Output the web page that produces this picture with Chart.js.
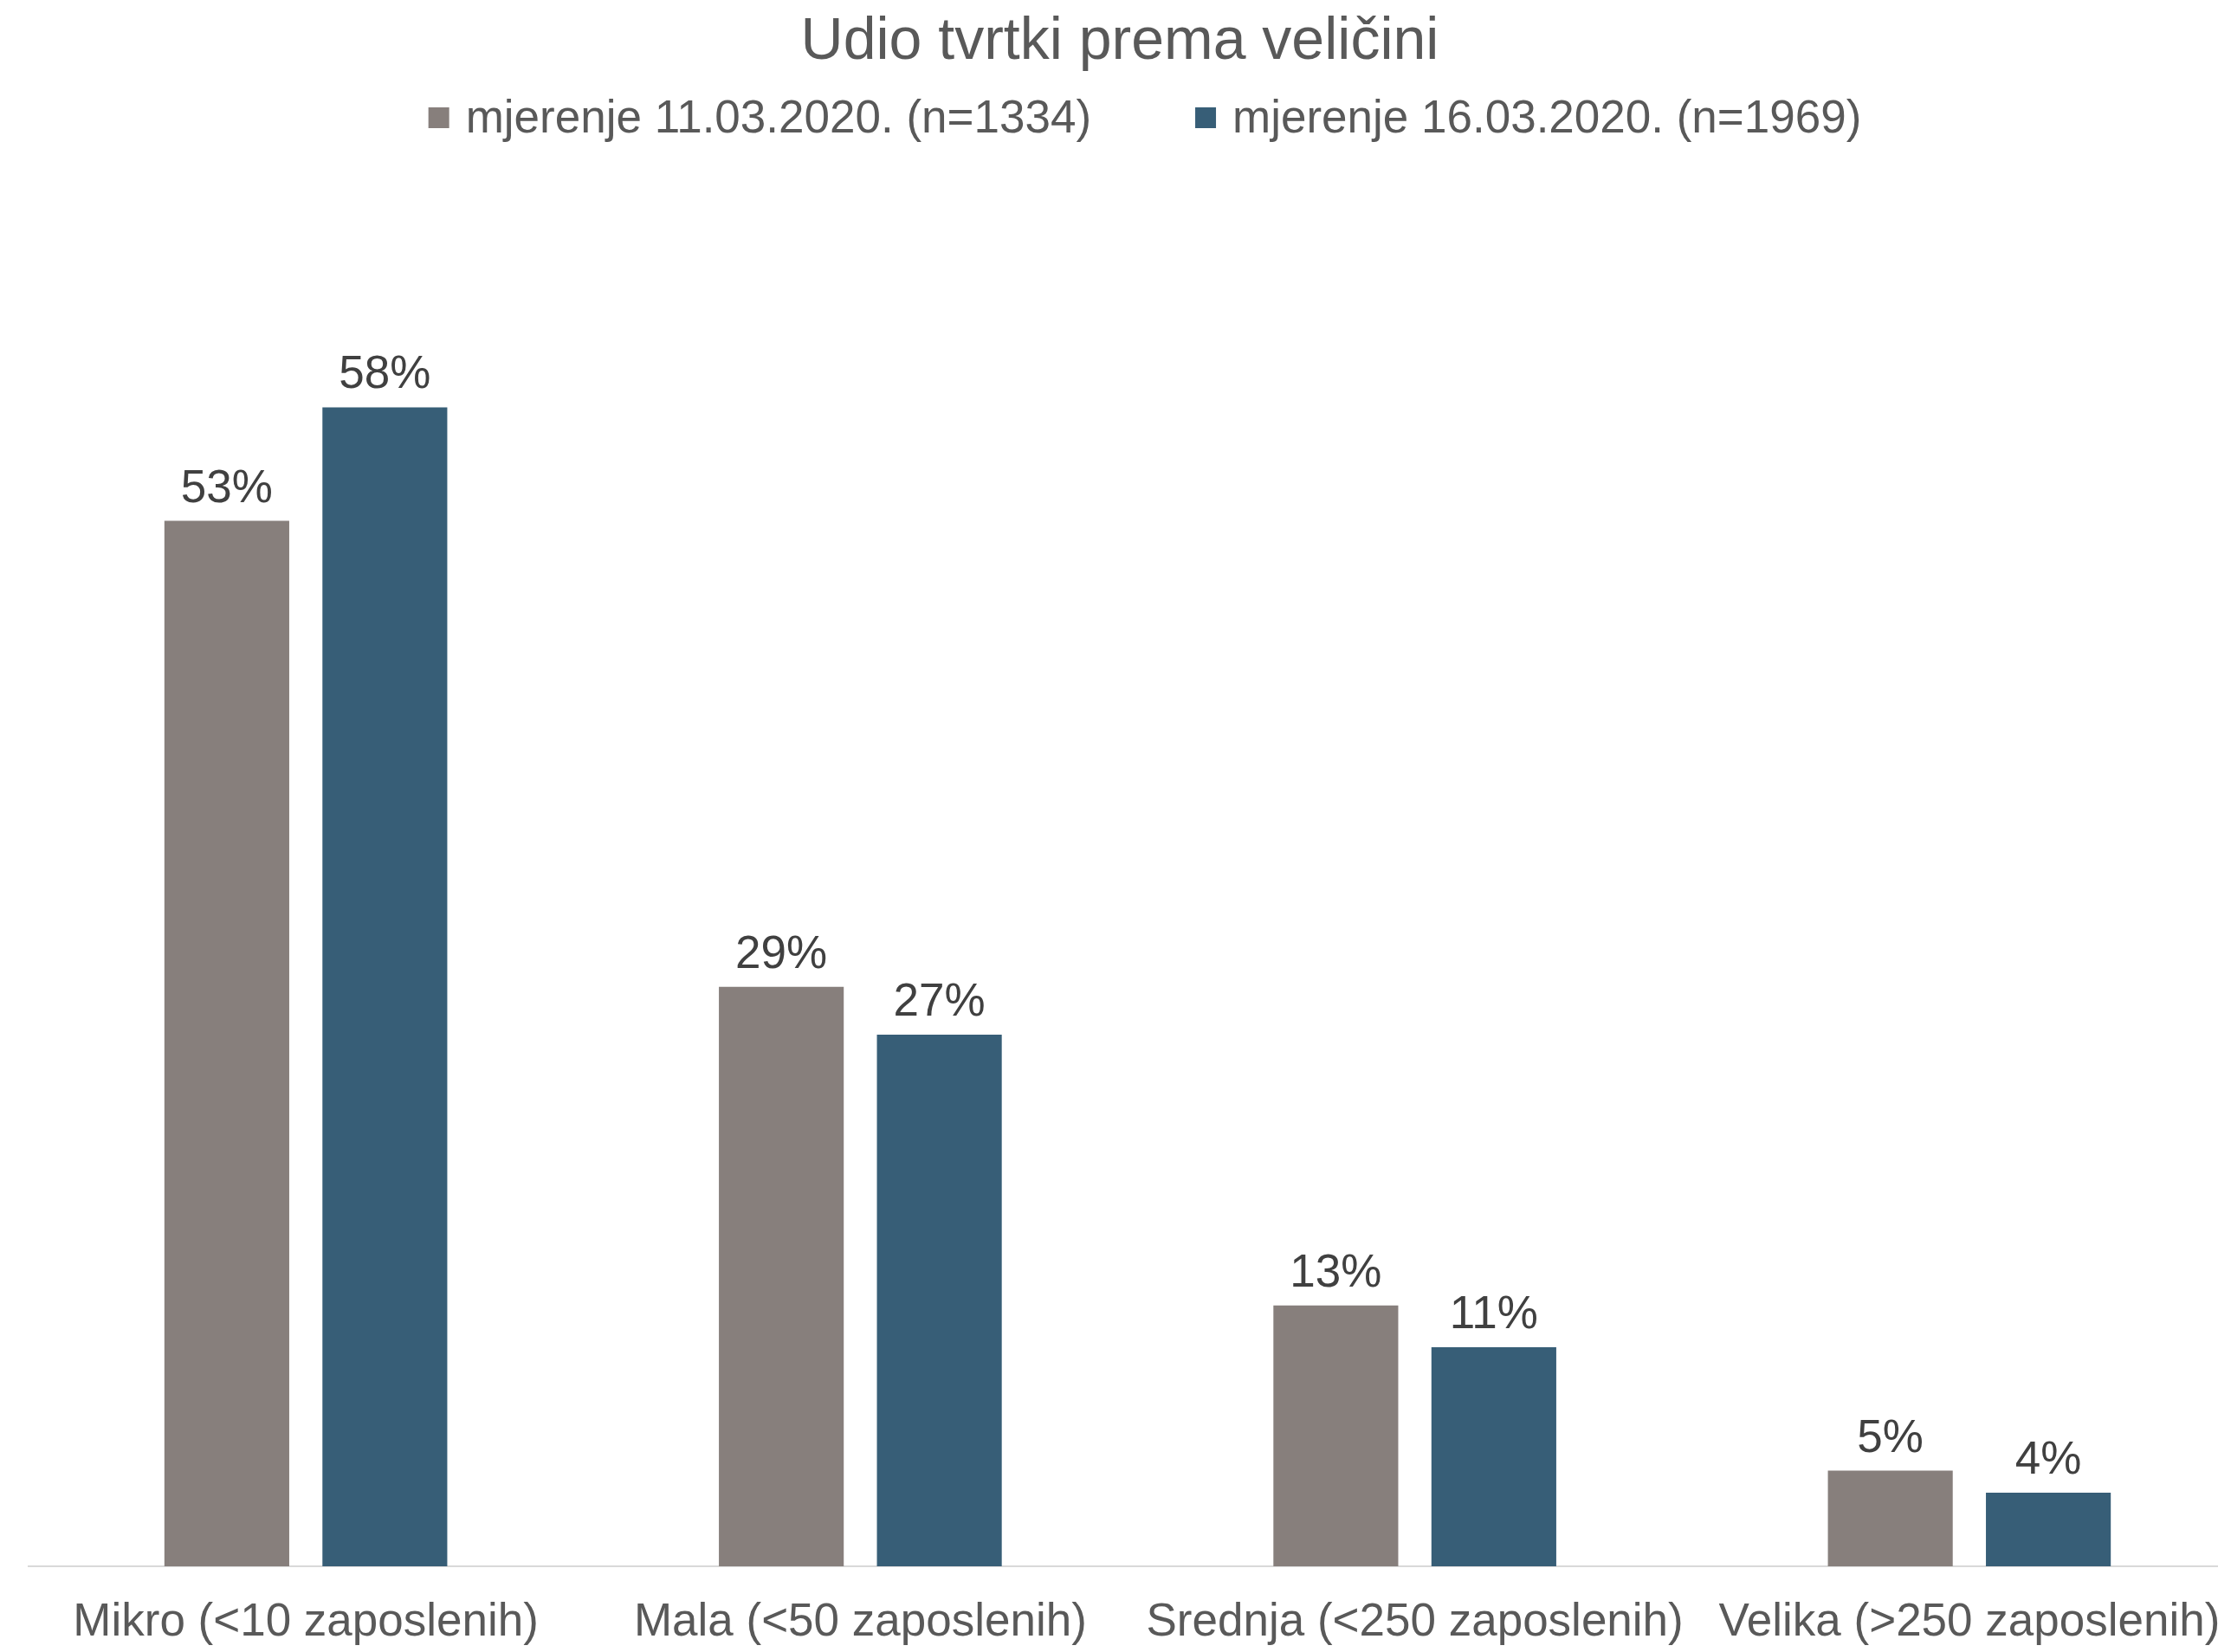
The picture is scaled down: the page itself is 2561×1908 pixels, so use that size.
<!DOCTYPE html>
<html>
<head>
<meta charset="utf-8">
<script src="https://cdn.jsdelivr.net/npm/chart.js@4"></script>
<style>
  html, body { margin: 0; padding: 0; background: #fff; overflow: hidden; }
  canvas { display: block; }
</style>
</head>
<body>
<!-- a bit wider than the window: the last category runs past the right edge, as in the original -->
<canvas id="myChart" width="2594" height="1908"></canvas>
<script>
const FONT = '"Liberation Sans", Arial, sans-serif';

// data
const categories = ['Mikro (<10 zaposlenih)', 'Mala (<50 zaposlenih)', 'Srednja (<250 zaposlenih)', 'Velika (>250 zaposlenih)'];
const seriesLabels = ['mjerenje 11.03.2020. (n=1334)', 'mjerenje 16.03.2020. (n=1969)'];
const mjerenje1 = [52.5, 29.1, 13.1, 4.8];
const mjerenje2 = [58.2, 26.7, 11.0, 3.7];
const colors = ['#877f7c', '#375e77'];
const chartTitle = 'Udio tvrtki prema veličini';

// value labels above bars
const valueLabels = {
  id: 'valueLabels',
  afterDatasetsDraw(chart) {
    const ctx = chart.ctx;
    ctx.save();
    ctx.font = '53px ' + FONT;
    ctx.fillStyle = '#404040';
    ctx.textAlign = 'center';
    ctx.textBaseline = 'alphabetic';
    chart.data.datasets.forEach((ds, i) => {
      chart.getDatasetMeta(i).data.forEach((bar, j) => {
        ctx.fillText(Math.round(ds.data[j]) + '%', bar.x, bar.y - 22);
      });
    });
    ctx.restore();
  }
};

// title + legend drawn by hand so the spacing matches
const header = {
  id: 'header',
  afterDraw(chart) {
    const ctx = chart.ctx;
    ctx.save();
    ctx.fillStyle = '#595959';
    ctx.font = '68px ' + FONT;
    ctx.textAlign = 'center';
    ctx.textBaseline = 'alphabetic';
    ctx.fillText(chartTitle, 1293, 68);

    const box = 24, textGap = 19, itemGap = 120, y = 136;
    ctx.font = '53px ' + FONT;
    ctx.textBaseline = 'middle';
    ctx.textAlign = 'left';
    const items = chart.data.datasets.map(ds => ({
      label: ds.label, color: ds.backgroundColor,
      w: box + textGap + ctx.measureText(ds.label).width
    }));
    const total = items.reduce((s, it) => s + it.w, 0) + itemGap * (items.length - 1);
    let x = 1322 - total / 2;
    items.forEach(it => {
      ctx.fillStyle = it.color;
      ctx.fillRect(x, y - box / 2, box, box);
      ctx.fillStyle = '#595959';
      ctx.fillText(it.label, x + box + textGap, y + 2);
      x += it.w + itemGap;
    });
    ctx.restore();
  }
};

const ctx = document.getElementById('myChart').getContext('2d');
const myChart = new Chart(ctx, {
  type: 'bar',
  data: {
    labels: categories,
    datasets: [
      { label: seriesLabels[0], data: mjerenje1, backgroundColor: colors[0] },
      { label: seriesLabels[1], data: mjerenje2, backgroundColor: colors[1] }
    ]
  },
  options: {
    responsive: false,
    animation: false,
    devicePixelRatio: 1,
    categoryPercentage: 0.57,
    barPercentage: 0.79,
    layout: {
      padding: { left: 33, right: 0, top: 199, bottom: 0 }
    },
    plugins: {
      legend: { display: false },
      tooltip: { enabled: false },
      title: { display: false }
    },
    scales: {
      x: {
        grid: { display: false, drawTicks: false },
        border: { display: true, color: '#d9d9d9', width: 2 },
        ticks: {
          color: '#595959',
          font: { family: FONT, size: 53 },
          padding: 34,
          autoSkip: false,
          maxRotation: 0
        },
        afterFit(scale) {
          scale.height = 99;
          scale.paddingLeft = 0;
          scale.paddingRight = 0;
        }
      },
      y: {
        display: false,
        min: 0,
        max: 70
      }
    }
  },
  plugins: [valueLabels, header]
});
</script>
</body>
</html>
